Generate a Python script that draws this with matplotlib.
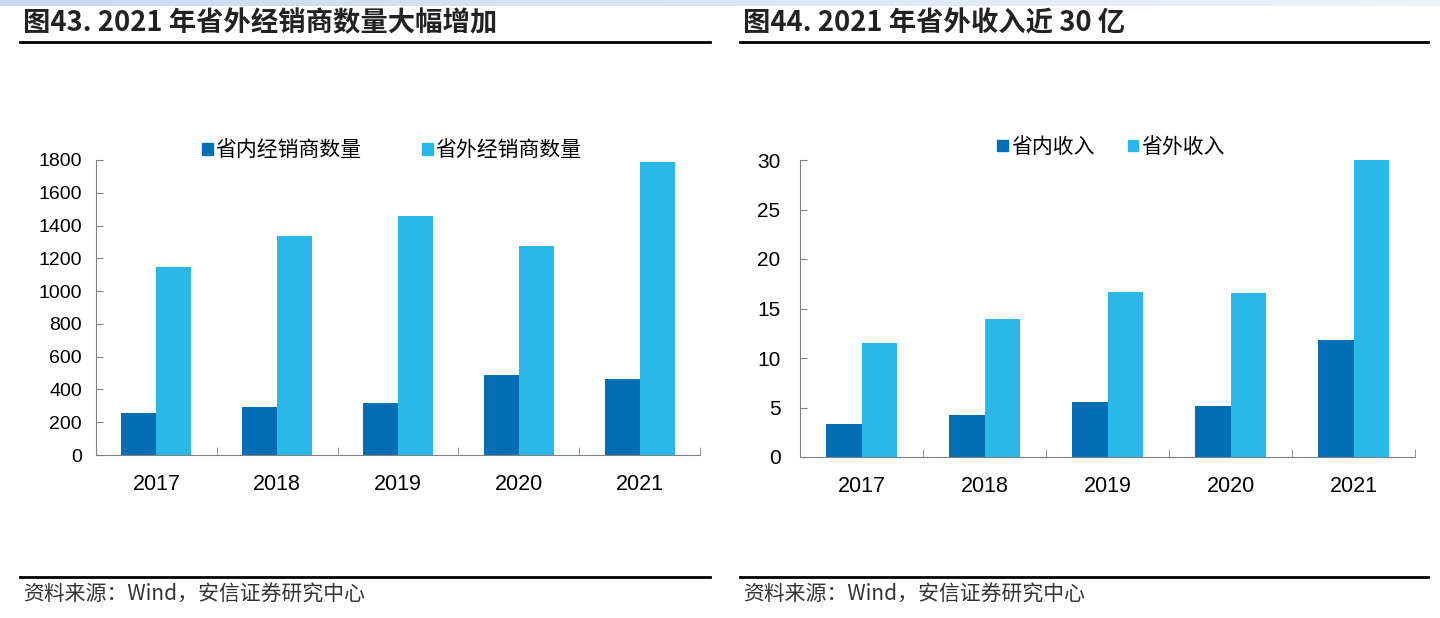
import numpy as np
import matplotlib.pyplot as plt
import matplotlib.patches as mpatches
from matplotlib.colors import LinearSegmentedColormap

plt.rcParams['font.family'] = ['Liberation Sans', 'Noto Sans CJK SC', 'DejaVu Sans']

years = ['2017', '2018', '2019', '2020', '2021']
dealers_in = [256, 293, 317, 488, 464]
dealers_out = [1147, 1336, 1458, 1275, 1787]
income_in = [3.33, 4.24, 5.56, 5.15, 11.8]
income_out = [11.5, 13.9, 16.67, 16.57, 30.0]

c_in = '#036eb3'
c_out = '#29b8e8'
cjk = ['Noto Sans CJK SC', 'DejaVu Sans']

fig = plt.figure(figsize=(14.4, 6.18), dpi=100)

# light strip at the top
strip = fig.add_axes([0, 0.99, 1, 0.01])
strip.imshow(np.linspace(0, 1, 256).reshape(1, -1),
             cmap=LinearSegmentedColormap.from_list('s', ['#c9d9f0', '#eef3fb']), aspect='auto')
strip.axis('off')


def panel(rect, vals_in, vals_out, yticks, ylim, labels, title, x0, x1, bar_w,
          ysize, ypad, leg_anchor, colsp):
    ax = fig.add_axes(rect)
    x = np.arange(len(years))
    ax.bar(x - bar_w / 2, vals_in, width=bar_w, color=c_in, label=labels[0])
    ax.bar(x + bar_w / 2, vals_out, width=bar_w, color=c_out, label=labels[1])
    ax.set_xlim(-0.5, len(years) - 0.5)
    ax.set_ylim(*ylim)
    ax.set_yticks(yticks)
    ax.set_yticklabels([str(v) for v in yticks], fontsize=ysize)
    ax.set_xticks(x)
    ax.set_xticklabels(years, fontsize=15.5)
    ax.tick_params(axis='x', length=0, pad=14)
    ax.set_xticks(np.arange(-0.5, len(years)), minor=True)
    ax.tick_params(axis='x', which='minor', direction='in', length=6, color='#808080')
    ax.tick_params(axis='y', direction='in', length=5, color='#808080', pad=ypad)
    for s in ['top', 'right']:
        ax.spines[s].set_visible(False)
    for s in ['left', 'bottom']:
        ax.spines[s].set_color('#808080')
    handles = [mpatches.Patch(color=c_in, label=labels[0]), mpatches.Patch(color=c_out, label=labels[1])]
    ax.legend(handles=handles, loc='center', bbox_to_anchor=leg_anchor, ncol=2, frameon=False,
              prop={'family': cjk, 'size': 15}, handlelength=0.5, handleheight=0.5, handletextpad=0.15,
              columnspacing=colsp, borderpad=0)
    # title and rules
    fig.text(x0 + 0.002, 1 - 23 / 618, title, fontsize=19.7, fontweight='bold', family=cjk,
             va='center', color='#222222')
    fig.add_artist(plt.Line2D([x0, x1], [1 - 42 / 618, 1 - 42 / 618], color='black', lw=2))
    fig.add_artist(plt.Line2D([x0, x1], [1 - 577 / 618, 1 - 577 / 618], color='black', lw=2))
    fig.text(x0 + 0.002, 1 - 595 / 618, '资料来源：Wind，安信证券研究中心', fontsize=15, family=cjk,
             va='center', color='#333333', style='italic')
    return ax


panel([96 / 1440, 1 - 455 / 618, 604 / 1440, 295 / 618], dealers_in, dealers_out,
      list(range(0, 1801, 200)), (0, 1800), ['省内经销商数量', '省外经销商数量'],
      '图43. 2021 年省外经销商数量大幅增加', 20 / 1440, 710 / 1440, 0.29,
      14, 10, (0.49, 1.034), 2.9)

panel([800 / 1440, 1 - 457 / 618, 615 / 1440, 297 / 618], income_in, income_out,
      list(range(0, 31, 5)), (0, 30), ['省内收入', '省外收入'],
      '图44. 2021 年省外收入近 30 亿', 740 / 1440, 1428 / 1440, 0.29,
      15, 14, (0.506, 1.044), 1.6)

plt.savefig('out.png', dpi=100)
